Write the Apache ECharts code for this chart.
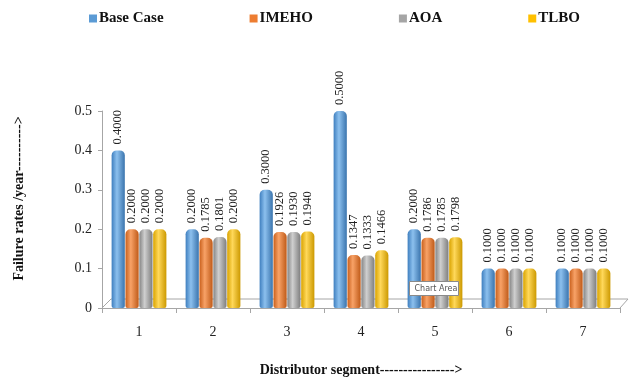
<!DOCTYPE html>
<html>
<head>
<meta charset="utf-8">
<script src="https://cdn.jsdelivr.net/npm/echarts@6/dist/echarts.min.js"></script>
<style>
  html, body { margin: 0; padding: 0; background: #fff; }
  #chart { width: 629px; height: 380px; }
</style>
</head>
<body>
<div id="chart"></div>
<script>
// Distributor segments on the x axis
const segments = ['1', '2', '3', '4', '5', '6', '7'];

// Failure rates per segment (per year)
const baseCase = [0.4000, 0.2000, 0.3000, 0.5000, 0.2000, 0.1000, 0.1000];
const imeho    = [0.2000, 0.1785, 0.1926, 0.1347, 0.1786, 0.1000, 0.1000];
const aoa      = [0.2000, 0.1801, 0.1930, 0.1333, 0.1785, 0.1000, 0.1000];
const tlbo     = [0.2000, 0.2000, 0.1940, 0.1466, 0.1798, 0.1000, 0.1000];

const seriesNames = ['Base Case', 'IMEHO', 'AOA', 'TLBO'];
const seriesData = [baseCase, imeho, aoa, tlbo];

// Cylinder shading: dark edges, light band in the middle
const palette = [
  ['#3f7fbf', '#8cc0ee', '#3a74ad'],
  ['#c9601c', '#f8a267', '#bf5a18'],
  ['#858585', '#cfcfcf', '#7e7e7e'],
  ['#d9a300', '#ffd85a', '#cc9900']
];
const legendColors = ['#5B9BD5', '#ED7D31', '#A5A5A5', '#FFC000'];

function cylinder(c) {
  return new echarts.graphic.LinearGradient(0, 0, 1, 0, [
    { offset: 0, color: c[0] },
    { offset: 0.4, color: c[1] },
    { offset: 1, color: c[2] }
  ]);
}

const serif = 'Liberation Serif';
const floorColor = '#a6a6a6';

const chart = echarts.init(document.getElementById('chart'), null, { renderer: 'canvas' });

chart.setOption({
  animation: false,
  backgroundColor: '#ffffff',
  textStyle: { fontFamily: serif },
  legend: {
    top: 6,
    left: 84,
    itemWidth: 8,
    itemHeight: 8,
    itemGap: 86,
    icon: 'rect',
    data: seriesNames.map((n, i) => ({ name: n, itemStyle: { color: legendColors[i] } })),
    textStyle: { fontFamily: serif, fontWeight: 'bold', fontSize: 15, color: '#111', padding: [0, 0, 0, -3] }
  },
  grid: { left: 102, right: 9, top: 111, bottom: 72, containLabel: false, outerBoundsMode: 'none' },
  xAxis: {
    type: 'category',
    data: segments,
    name: 'Distributor segment---------------->',
    nameLocation: 'middle',
    nameGap: 55,
    nameTextStyle: { fontFamily: serif, fontWeight: 'bold', fontSize: 14, color: '#111' },
    axisLine: { show: true, lineStyle: { color: floorColor, width: 1 } },
    axisTick: { show: true, length: 5, lineStyle: { color: floorColor } },
    axisLabel: { fontFamily: serif, fontSize: 14, color: '#222', margin: 17 }
  },
  yAxis: {
    type: 'value',
    min: 0,
    max: 0.5,
    interval: 0.1,
    name: 'Failure rates /year---------->',
    nameLocation: 'middle',
    nameGap: 76,
    nameRotate: 90,
    nameTextStyle: { fontFamily: serif, fontWeight: 'bold', fontSize: 14, color: '#111', padding: [0, 0, 0, 22] },
    axisLine: { show: true, lineStyle: { color: floorColor, width: 1 } },
    axisTick: { show: true, length: 4, lineStyle: { color: floorColor } },
    splitLine: { show: false },
    axisLabel: {
      fontFamily: serif, fontSize: 14, color: '#222', margin: 10,
      formatter: v => (v === 0 ? '0' : String(+v.toFixed(1)))
    }
  },
  series: seriesNames.map((name, i) => ({
    name: name,
    type: 'bar',
    data: seriesData[i],
    barGap: '5%',
    barCategoryGap: '26%',
    itemStyle: { color: cylinder(palette[i]), borderRadius: [5, 5, 2, 2] },
    label: {
      show: true,
      position: 'insideBottom',
      rotate: 90,
      align: 'left',
      verticalAlign: 'middle',
      distance: 0,
      fontFamily: serif,
      fontSize: 12.5,
      color: '#222',
      formatter: p => p.value.toFixed(4)
    },
    labelLayout: function (params) {
      // put the rotated value text just above the top of its bar
      const r = params.rect;
      return { y: r.y - 6, x: r.x + r.width / 2 };
    }
  })),
  graphic: [
    // floor of the plot: back edge and the two slanted sides
    {
      type: 'polyline',
      z: 1,
      silent: true,
      shape: { points: [[102, 308], [111, 299], [628, 299], [620, 308]] },
      style: { stroke: floorColor, lineWidth: 1, fill: null }
    },
    {
      type: 'group',
      left: 409,
      top: 281,
      z: 100,
      children: [
        { type: 'rect', z: 100, shape: { x: 0, y: 0, width: 49, height: 14 }, style: { fill: '#fff', stroke: '#8a8a8a', lineWidth: 1 } },
        { type: 'text', z: 101, style: { x: 5, y: 3, text: 'Chart Area', fontSize: 8, fontFamily: 'DejaVu Sans', fill: '#555' } }
      ]
    }
  ]
});
</script>
</body>
</html>
